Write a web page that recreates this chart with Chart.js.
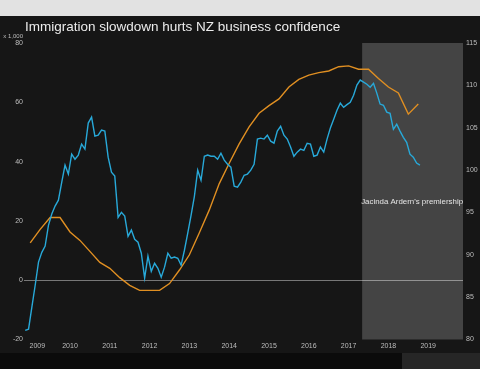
<!DOCTYPE html>
<html>
<head>
<meta charset="utf-8">
<script src="https://cdn.jsdelivr.net/npm/chart.js@4"></script>
<style>
  html, body { margin: 0; padding: 0; width: 480px; height: 369px; overflow: hidden; }
  body { position: relative; background: #161616; font-family: "Liberation Sans", Arial, sans-serif; }
  .top { position: absolute; left: 0; top: 0; width: 480px; height: 16px; background: #e2e2e2; }
  .bottom { position: absolute; left: 0; top: 353px; width: 402px; height: 16px; background: #0b0b0b; }
  .bottom-r { position: absolute; left: 402px; top: 353px; width: 78px; height: 16px; background: #262626; }
  canvas { position: absolute; left: 0; top: 0; }
</style>
</head>
<body>
<div class="top"></div>
<div class="bottom"></div>
<div class="bottom-r"></div>
<canvas id="chart" width="480" height="369"></canvas>
<script>
// Net migration (thousands, left axis), monthly from Nov 2008
var migrationStart = [2008, 11];
var netMigration = [
  -16.9, -16.5, -9.1, -1.7, 6.1, 9.4, 11.5, 18.5, 22.3, 25.0,
  27.0, 33.0, 38.8, 35.8, 42.5, 40.8, 42.2, 45.9, 44.2, 53.0,
  55.0, 48.6, 48.9, 50.6, 50.3, 41.5, 36.4, 35.1, 21.2, 22.9,
  21.6, 14.8, 16.9, 13.8, 12.8, 9.1, 0.7, 8.1, 3.0, 5.7,
  4.0, 1.0, 4.4, 9.1, 7.4, 7.8, 7.4, 5.1, 10.1, 15.9,
  21.9, 28.3, 37.1, 33.7, 41.8, 42.2, 41.8, 41.8, 40.8, 42.8,
  40.5, 39.1, 38.1, 31.7, 31.4, 33.1, 35.4, 35.8, 37.1, 39.1,
  47.6, 47.9, 47.6, 48.9, 46.9, 46.2, 50.3, 51.9, 48.9, 47.6,
  44.9, 41.8, 43.2, 44.2, 43.8, 46.2, 45.9, 41.8, 42.2, 44.9,
  43.2, 47.6, 51.3, 54.3, 57.3, 59.7, 58.3, 59.2, 60.0, 62.4,
  65.8, 67.5, 66.8, 66.1, 65.1, 66.4, 63.1, 59.4, 59.0, 56.7,
  56.3, 50.9, 52.6, 50.3, 48.2, 46.5, 42.5, 41.5, 39.5, 38.8
];

// Business confidence index (right axis), quarterly from Q4 2008
var confidenceStart = [2008, 4];
var businessConfidence = [
  91.4, 93.0, 94.4, 94.4, 92.7, 91.7, 90.4, 89.1, 88.4, 87.3,
  86.4, 85.8, 85.8, 85.8, 86.6, 88.2, 90.0, 92.6, 95.3, 98.4,
  100.8, 103.1, 105.1, 106.7, 107.6, 108.4, 109.8, 110.7, 111.2, 111.5,
  111.7, 112.2, 112.3, 111.9, 111.9, 110.8, 109.8, 109.1, 106.6, 107.8
];

var yearTicks = [2009, 2010, 2011, 2012, 2013, 2014, 2015, 2016, 2017, 2018, 2019];
var leftTicks = [-20, 0, 20, 40, 60, 80];
var rightTicks = [80, 85, 90, 95, 100, 105, 110, 115];
var premiershipStart = 2017.34;

var titleText = "Immigration slowdown hurts NZ business confidence";
var unitText = "x 1,000";
var shadeLabel = "Jacinda Ardern's premiership";

function monthly(values, start) {
  return values.map(function (v, i) {
    var m = start[1] - 1 + i;
    return { x: start[0] + Math.floor(m / 12) + ((m % 12) + 0.5) / 12, y: v };
  });
}
function quarterly(values, start) {
  return values.map(function (v, i) {
    var q = start[1] + i;
    return { x: start[0] + q / 4, y: v };
  });
}

var font = "'Liberation Sans', Arial, sans-serif";
var tickColor = "#bdbdbd";

var decor = {
  id: "decor",
  beforeDatasetsDraw: function (chart) {
    var a = chart.chartArea, ctx = chart.ctx;
    var x0 = chart.scales.x.getPixelForValue(premiershipStart);
    ctx.save();
    ctx.fillStyle = "rgba(255,255,255,0.2)";
    ctx.fillRect(x0, a.top, a.right - x0, a.bottom - a.top);
    ctx.fillStyle = "#e6e6e6";
    ctx.font = "7.9px " + font;
    ctx.textBaseline = "middle";
    ctx.fillText(shadeLabel, x0 - 1, chart.scales.yR.getPixelForValue(96.3));
    ctx.restore();
  },
  afterDraw: function (chart) {
    var ctx = chart.ctx;
    ctx.save();
    ctx.fillStyle = "#ececec";
    ctx.font = "13.5px " + font;
    ctx.textBaseline = "alphabetic";
    ctx.fillText(titleText, 25, 31);
    ctx.fillStyle = tickColor;
    ctx.font = "6px " + font;
    ctx.textAlign = "right";
    ctx.fillText(unitText, 23, 38);
    ctx.restore();
  }
};

new Chart(document.getElementById("chart"), {
  type: "line",
  data: {
    datasets: [
      { label: "Net migration", data: monthly(netMigration, migrationStart), yAxisID: "y",
        borderColor: "#28a9d9", borderWidth: 1.4, pointRadius: 0, tension: 0 },
      { label: "Business confidence", data: quarterly(businessConfidence, confidenceStart), yAxisID: "yR",
        borderColor: "#e08f22", borderWidth: 1.4, pointRadius: 0, tension: 0 }
    ]
  },
  options: {
    responsive: false,
    animation: false,
    parsing: false,
    layout: { padding: { top: 43, left: 0, right: 0, bottom: 0 } },
    plugins: { legend: { display: false }, tooltip: { enabled: false } },
    scales: {
      x: {
        type: "linear", min: 2008.844, max: 2019.874,
        grid: { display: false, drawTicks: false }, border: { display: false },
        afterFit: function (s) { s.height = 29.5; },
        afterBuildTicks: function (s) {
          // first label sits a little to the right, as in the source
          s.ticks = yearTicks.map(function (y) { return { value: y === 2009 ? 2009.18 : y }; });
        },
        ticks: { color: tickColor, font: { family: font, size: 7 }, padding: 2, maxRotation: 0, autoSkip: false,
                 callback: function (v) { return String(Math.floor(v)); } }
      },
      y: {
        position: "left", min: -20, max: 80,
        afterFit: function (s) { s.width = 24; },
        afterBuildTicks: function (s) { s.ticks = leftTicks.map(function (v) { return { value: v }; }); },
        grid: { drawTicks: false, lineWidth: 1,
                color: function (c) { return c.tick && c.tick.value === 0 ? "rgba(200,200,200,0.55)" : "rgba(0,0,0,0)"; } },
        border: { display: false },
        ticks: { color: tickColor, font: { family: font, size: 7 }, padding: 1 }
      },
      yR: {
        position: "right", min: 80, max: 115,
        afterFit: function (s) { s.width = 17; },
        afterBuildTicks: function (s) { s.ticks = rightTicks.map(function (v) { return { value: v }; }); },
        grid: { display: false, drawTicks: false }, border: { display: false },
        ticks: { color: tickColor, font: { family: font, size: 7 }, padding: 3 }
      }
    }
  },
  plugins: [decor]
});
</script>
</body>
</html>
